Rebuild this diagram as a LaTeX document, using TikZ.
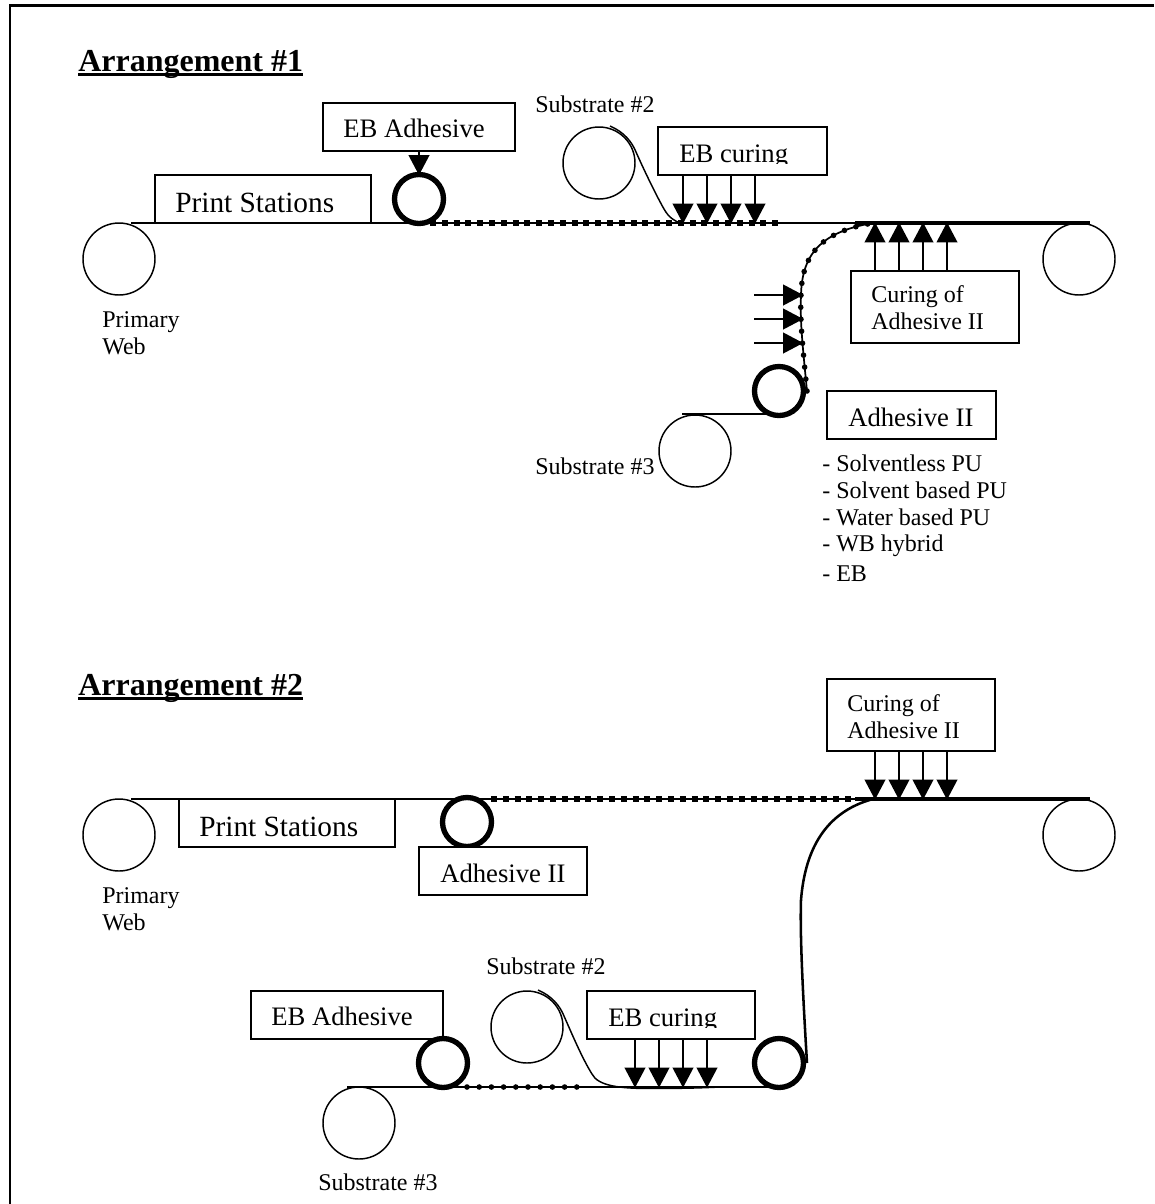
\documentclass[tikz,border=0pt]{standalone}
\usepackage{fontspec}
\setmainfont{Liberation Serif}
\usetikzlibrary{arrows.meta}
\tikzset{
  x=0.75pt,y=-0.75pt,
  thinline/.style={line width=1.1pt,black},
  webbold/.style={line width=2.4pt,black},
  roll/.style={circle,draw,line width=1.1pt,minimum size=54pt,inner sep=0pt,outer sep=0pt},
  nip/.style={circle,draw,line width=4pt,fill=white,minimum size=36.75pt,inner sep=0pt,outer sep=0pt},
  boxn/.style n args={2}{draw,line width=1.3pt,fill=white,rectangle,minimum width=#1*0.75pt,minimum height=#2*0.75pt,inner sep=0pt,outer sep=0pt},
  arr/.style={line width=1.3pt,-{Triangle[length=15pt,width=15.5pt]},shorten >=-0.5pt},
  sqdash/.style={line width=4.4pt,black,dash pattern=on 4.5pt off 4.35pt},
  rounddots/.style={line width=4.2pt,black,line cap=round,dash pattern=on 0pt off 9pt},
  lab/.style={inner sep=0pt,anchor=west,font=\fontsize{18}{20.25}\selectfont},
  big/.style={inner sep=0pt,anchor=base west,font=\fontsize{20}{24}\selectfont},
  bigger/.style={inner sep=0pt,anchor=base west,font=\fontsize{22}{24}\selectfont},
  head/.style={inner sep=0pt,anchor=base west,font=\fontsize{24}{28}\selectfont\bfseries},
}
\begin{document}
\begin{tikzpicture}
\useasboundingbox (0,0) rectangle (1154,1204);
% frame
\draw[line width=2.2pt] (10,1204) -- (10,5.5) -- (1154,5.5);

% ---------- Arrangement 1 ----------
\node[head] (h1) at (78,71) {Arrangement \#1};
\draw[line width=1.7pt] (h1.base west)++(0,3.5) -- ++(225,0);

\node[roll] (a1prim) at (119,259) {};
\node[roll] (a1end) at (1079,259) {};
\coordinate (a1s) at (131,223);
\coordinate (a1e) at (1090,223);
\coordinate (a1b) at (855,223);
\coordinate (a1d0) at (430,223);
\coordinate (a1d1) at (779,223);
\draw[thinline] (a1s) -- (a1e);
\draw[webbold] (a1b) -- (a1e);
\draw[sqdash] (a1d0) -- (a1d1);

\node[boxn={216}{48}] (a1print) at (263,199) {};
\node[bigger] (a1printt) at (175,212) {Print Stations};
\node[boxn={192}{48}] (a1ebad) at (419,127) {};
\node[big] (a1ebadt) at (343,137) {EB Adhesive};
\node[nip] (a1nip) at (419,199) {};
\draw[arr] (a1ebad.south) -- (a1nip.north);

\node[lab] (a1s2lab) at (535,104) {Substrate \#2};
\node[roll] (a1s2) at (599,163) {};
\coordinate (a1m) at (680,223);
\draw[thinline] (610,126) .. controls (624,132) and (632,142) .. (636,152)
  .. controls (644,170) and (656,195) .. (664,209)
  .. controls (669,218) and (675,221) .. (a1m);

\node[boxn={169}{48}] (a1eb) at (742.5,151) {};
\begin{scope}
\clip (658,127) rectangle (827,163.5);
\node[big] (a1ebt) at (679,162) {EB curing};
\end{scope}
\foreach \x in {683,707,731,755}{
  \coordinate (t) at (\x,223);
  \draw[arr] (t |- a1eb.south) -- (t);
}

\node[boxn={168}{72}] (a1cur) at (935,307) {};
\node[lab,align=left,anchor=north west] (a1curt) at (871,285) {Curing of\\Adhesive II};
\foreach \x in {875,899,923,947}{
  \coordinate (t) at (\x,223);
  \draw[arr] (t |- a1cur.north) -- (t);
}

\node[nip] (a1nip2) at (779,391) {};
\coordinate (a1c) at (807,391);
\draw[line width=1.3pt] (a1c) .. controls (802,340) and (800,320) .. (801,295)
  .. controls (802,255) and (820,232) .. (873,223);
\draw[rounddots] (a1c) .. controls (802,340) and (800,320) .. (801,295)
  .. controls (802,255) and (820,232) .. (873,223);
\foreach \y in {295,319,343}{
  \coordinate (t) at (802.5,\y);
  \draw[arr] (754,\y) -- (t);
}
\node[roll] (a1s3) at (695,451) {};
\coordinate (a1s3s) at (682,414);
\draw[thinline] (a1s3s) -- (a1s3s -| a1nip2.center);
\node[lab] (a1s3lab) at (535,466) {Substrate \#3};
\node[boxn={169}{48}] (a1ad2) at (911.5,415) {};
\node[big] (a1ad2t) at (848,426) {Adhesive II};
\node[lab,align=left,anchor=north west,font=\fontsize{18}{20}\selectfont] (a1list) at (822,455)
  {- Solventless PU\\- Solvent based PU\\- Water based PU\\- WB hybrid\\[2pt]- EB};
\node[lab,align=left,anchor=north west] (a1prl) at (102,311) {Primary\\Web};

% ---------- Arrangement 2 ----------
\node[head] (h2) at (78,695) {Arrangement \#2};
\draw[line width=1.7pt] (h2.base west)++(0,3.5) -- ++(225,0);

\node[roll] (a2prim) at (119,835) {};
\node[roll] (a2end) at (1079,835) {};
\coordinate (a2s) at (131,799);
\coordinate (a2e) at (1090,799);
\coordinate (a2b) at (855,799);
\coordinate (a2d0) at (491,799);
\coordinate (a2d1) at (852,799);
\draw[thinline] (a2s) -- (a2e);
\draw[webbold] (a2b) -- (a2e);
\draw[sqdash] (a2d0) -- (a2d1);

\node[boxn={216}{48}] (a2print) at (287,823) {};
\node[bigger] (a2printt) at (199,836) {Print Stations};
\node[nip] (a2nip) at (467,822) {};
\node[boxn={168.5}{48}] (a2ad2) at (503,871) {};
\node[big] (a2ad2t) at (440,882) {Adhesive II};

\node[boxn={168}{72}] (a2cur) at (911,715) {};
\node[lab,align=left,anchor=north west] (a2curt) at (847,694) {Curing of\\Adhesive II};
\foreach \x in {875,899,923,947}{
  \coordinate (t) at (\x,799);
  \draw[arr] (t |- a2cur.south) -- (t);
}

\node[boxn={192}{48}] (a2ebad) at (347,1015) {};
\node[big] (a2ebadt) at (271,1025) {EB Adhesive};
\node[lab] (a2s2lab) at (486,966) {Substrate \#2};
\node[roll] (a2s2) at (527,1027) {};
\node[boxn={168}{48}] (a2eb) at (671,1015) {};
\begin{scope}
\clip (587,991) rectangle (755,1027.5);
\node[big] (a2ebt) at (608,1026) {EB curing};
\end{scope}
\coordinate (a2l) at (347,1087);
\node[nip] (a2nip1) at (443,1063) {};
\node[nip] (a2nip2) at (779,1063) {};
\draw[thinline] (a2l) -- (a2l -| a2nip2.center);
\draw[line width=4.2pt,line cap=round,dash pattern=on 0pt off 9.15pt] (467,1087) -- (577,1087);
\draw[thinline] (538,990) .. controls (552,996) and (560,1006) .. (564,1016)
  .. controls (572,1034) and (582,1058) .. (592,1074)
  .. controls (598,1086) and (620,1088.5) .. (650,1088.5)
  .. controls (680,1088.5) and (700,1088) .. (720,1087);
\foreach \x in {635,659,683,707}{
  \coordinate (t) at (\x,1087);
  \draw[arr] (t |- a2eb.south) -- (t);
}
\coordinate (a2c) at (807,1063);
\draw[line width=1.9pt] (a2c) .. controls (802,980) and (800,930) .. (801,900)
  .. controls (805,850) and (825,812) .. (873,799);
\node[roll] (a2s3) at (359,1123) {};
\node[lab] (a2s3lab) at (318,1182) {Substrate \#3};
\node[lab,align=left,anchor=north west] (a2prl) at (102,887) {Primary\\Web};
\end{tikzpicture}
\end{document}
